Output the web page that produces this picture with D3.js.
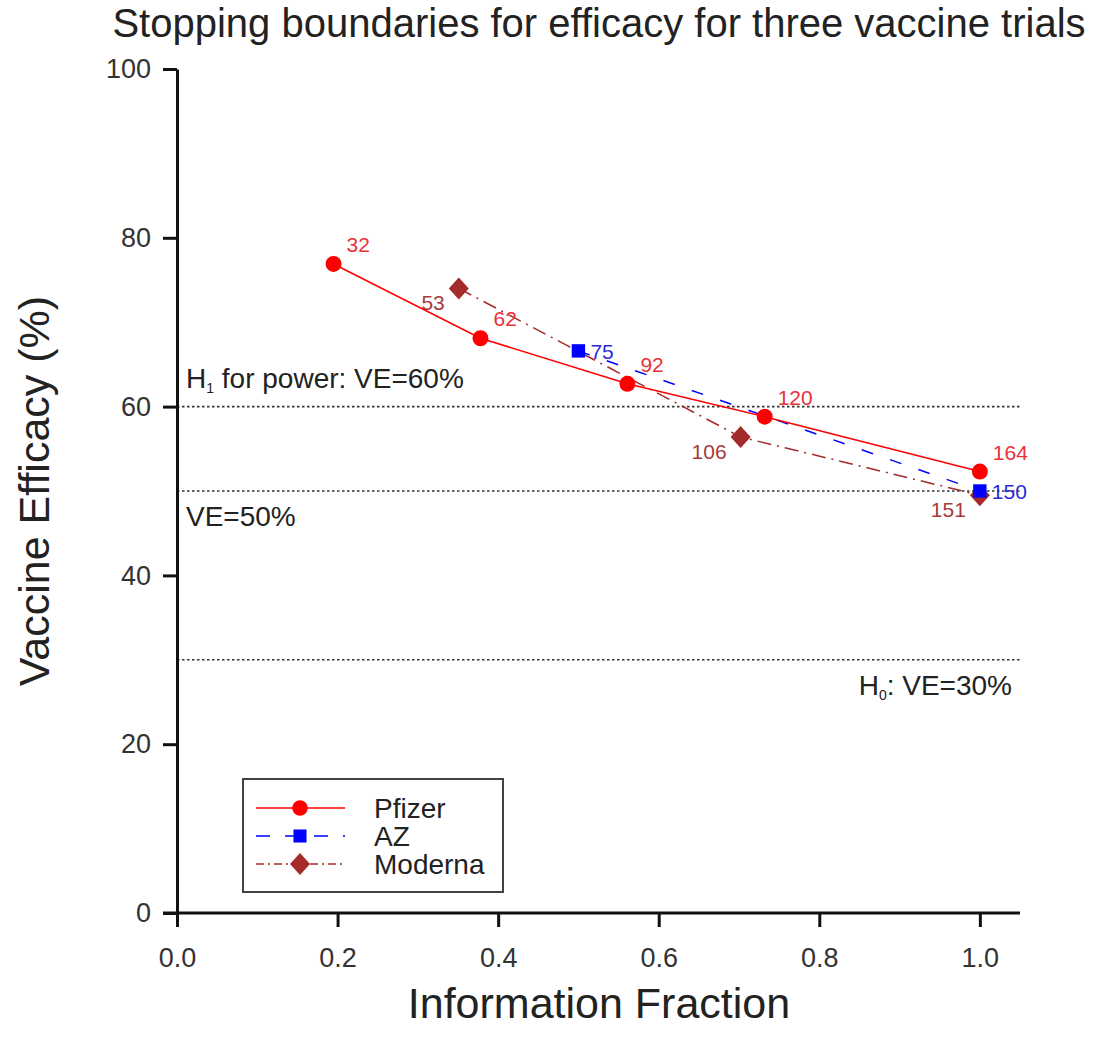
<!DOCTYPE html>
<html>
<head>
<meta charset="utf-8">
<script src="https://cdn.jsdelivr.net/npm/d3@7"></script>
<style>
  body { margin: 0; background: #fff; }
  text { font-family: "Liberation Sans", Arial, sans-serif; }
</style>
</head>
<body>
<div id="chart"></div>
<script>
const width = 1097
const height = 1047
const margin = { left: 177, right: 77, top: 69, bottom: 134 }

// trial data: information fraction, efficacy boundary (%), events
const pfizerFrac = [0.195, 0.378, 0.561, 0.732, 1.0]
const pfizerVE = [76.9, 68.1, 62.7, 58.8, 52.3]
const pfizerEvents = ['32', '62', '92', '120', '164']

const azFrac = [0.5, 1.0]
const azVE = [66.6, 50.0]
const azEvents = ['75', '150']

const modernaFrac = [0.351, 0.702, 1.0]
const modernaVE = [74.0, 56.4, 49.5]
const modernaEvents = ['53', '106', '151']

const xTicks = [0, 0.2, 0.4, 0.6, 0.8, 1.0]
const yTicks = [0, 20, 40, 60, 80, 100]
const refLines = [60, 50, 30]

const style = {
  pfizer: { color: '#ff0000', label: '#e8323a', dash: null },
  az: { color: '#0000ff', label: '#2b2bd9', dash: '12,18' },
  moderna: { color: '#a52a2a', label: '#a83a3a', dash: '14,6,2,6' }
}

const svg = d3.select('#chart').append('svg')
  .attr('width', width)
  .attr('height', height)

const x = d3.scaleLinear().domain([0, 1.05]).range([margin.left, width - margin.right])
const y = d3.scaleLinear().domain([0, 100]).range([height - margin.bottom, margin.top])

// title
svg.append('text')
  .attr('x', 599).attr('y', 37)
  .attr('text-anchor', 'middle')
  .attr('font-size', 40)
  .attr('fill', '#222')
  .text('Stopping boundaries for efficacy for three vaccine trials')

// reference lines
svg.selectAll('.ref').data(refLines).enter().append('line')
  .attr('x1', x(0)).attr('x2', x(1.05))
  .attr('y1', d => y(d)).attr('y2', d => y(d))
  .attr('stroke', '#333').attr('stroke-width', 1.6)
  .attr('stroke-dasharray', '2.5,2.5')

const h1 = svg.append('text').attr('x', 186).attr('y', y(60) - 19)
  .attr('font-size', 28).attr('fill', '#222')
h1.append('tspan').text('H')
h1.append('tspan').attr('font-size', 14).attr('dy', 5).text('1')
h1.append('tspan').attr('dy', -5).text(' for power: VE=60%')

svg.append('text').attr('x', 186).attr('y', y(50) + 35)
  .attr('font-size', 28).attr('fill', '#222').text('VE=50%')

const h0 = svg.append('text').attr('x', 1012).attr('y', y(30) + 35)
  .attr('text-anchor', 'end')
  .attr('font-size', 28).attr('fill', '#222')
h0.append('tspan').text('H')
h0.append('tspan').attr('font-size', 14).attr('dy', 5).text('0')
h0.append('tspan').attr('dy', -5).text(': VE=30%')

// axes
const xAxis = svg.append('g')
  .attr('transform', `translate(0,${y(0)})`)
  .call(d3.axisBottom(x).tickValues(xTicks).tickFormat(d3.format('.1f')).tickSizeInner(14).tickSizeOuter(0).tickPadding(21))
const yAxis = svg.append('g')
  .attr('transform', `translate(${x(0)},0)`)
  .call(d3.axisLeft(y).tickValues(yTicks).tickSizeInner(14).tickSizeOuter(0).tickPadding(12))

;[xAxis, yAxis].forEach(g => {
  g.select('.domain').attr('stroke', '#111').attr('stroke-width', 3)
  g.selectAll('.tick line').attr('stroke', '#111').attr('stroke-width', 3)
  g.selectAll('.tick text').style('font-size', '27px').attr('fill', '#333')
    .style('font-family', '"Liberation Sans", Arial, sans-serif')
})
// extend x axis line left to the 0 tick of the y axis
xAxis.select('.domain').attr('d', `M${x(0) - 14},0H${x(1.05)}`)

svg.append('text')
  .attr('x', 599).attr('y', 1018)
  .attr('text-anchor', 'middle')
  .attr('font-size', 43).attr('fill', '#222')
  .text('Information Fraction')

svg.append('text')
  .attr('transform', `translate(49,${y(50)}) rotate(-90)`)
  .attr('text-anchor', 'middle')
  .attr('font-size', 43).attr('fill', '#222')
  .text('Vaccine Efficacy (%)')

const line = d3.line().x(d => x(d[0])).y(d => y(d[1]))

function drawSeries(fracs, ves, events, s, marker, labelDx, labelDy, anchor) {
  const pts = fracs.map((f, i) => [f, ves[i], events[i]])
  svg.append('path').datum(pts)
    .attr('d', line)
    .attr('fill', 'none')
    .attr('stroke', s.color)
    .attr('stroke-width', 1.5)
    .attr('stroke-dasharray', s.dash)
  const g = svg.append('g')
  pts.forEach(p => {
    g.append('path')
      .attr('transform', `translate(${x(p[0])},${y(p[1])})`)
      .attr('d', marker)
      .attr('fill', s.color)
  })
  svg.append('g').selectAll('text').data(pts).enter().append('text')
    .attr('x', d => x(d[0]) + labelDx)
    .attr('y', d => y(d[1]) + labelDy)
    .attr('text-anchor', anchor)
    .attr('font-size', 21)
    .attr('fill', s.label)
    .text(d => d[2])
}

const circle = d3.symbol().type(d3.symbolCircle).size(200)()
const square = d3.symbol().type(d3.symbolSquare).size(180)()
const diamond = 'M0,-11L10,0L0,11L-10,0Z'

drawSeries(modernaFrac, modernaVE, modernaEvents, style.moderna, diamond, -14, 22, 'end')
drawSeries(azFrac, azVE, azEvents, style.az, square, 12, 8, 'start')
drawSeries(pfizerFrac, pfizerVE, pfizerEvents, style.pfizer, circle, 13, -12, 'start')

// legend
const legend = svg.append('g')
legend.append('rect')
  .attr('x', 243).attr('y', 779).attr('width', 260).attr('height', 113)
  .attr('fill', '#fff').attr('stroke', '#444').attr('stroke-width', 2)

const legendItems = [
  { name: 'Pfizer', s: style.pfizer, marker: d3.symbol().type(d3.symbolCircle).size(190)(), dash: null },
  { name: 'AZ', s: style.az, marker: d3.symbol().type(d3.symbolSquare).size(170)(), dash: '14,15' },
  { name: 'Moderna', s: style.moderna, marker: 'M0,-11L10,0L0,11L-10,0Z', dash: '8,4,2,4' }
]
legendItems.forEach((item, i) => {
  const ly = 808 + i * 28
  legend.append('line')
    .attr('x1', 256).attr('x2', 345).attr('y1', ly).attr('y2', ly)
    .attr('stroke', item.s.color).attr('stroke-width', 1.5)
    .attr('stroke-dasharray', item.dash)
  legend.append('path')
    .attr('transform', `translate(300,${ly})`)
    .attr('d', item.marker)
    .attr('fill', item.s.color)
  legend.append('text')
    .attr('x', 374).attr('y', ly + 10)
    .attr('font-size', 28).attr('fill', '#222')
    .text(item.name)
})
</script>
</body>
</html>
